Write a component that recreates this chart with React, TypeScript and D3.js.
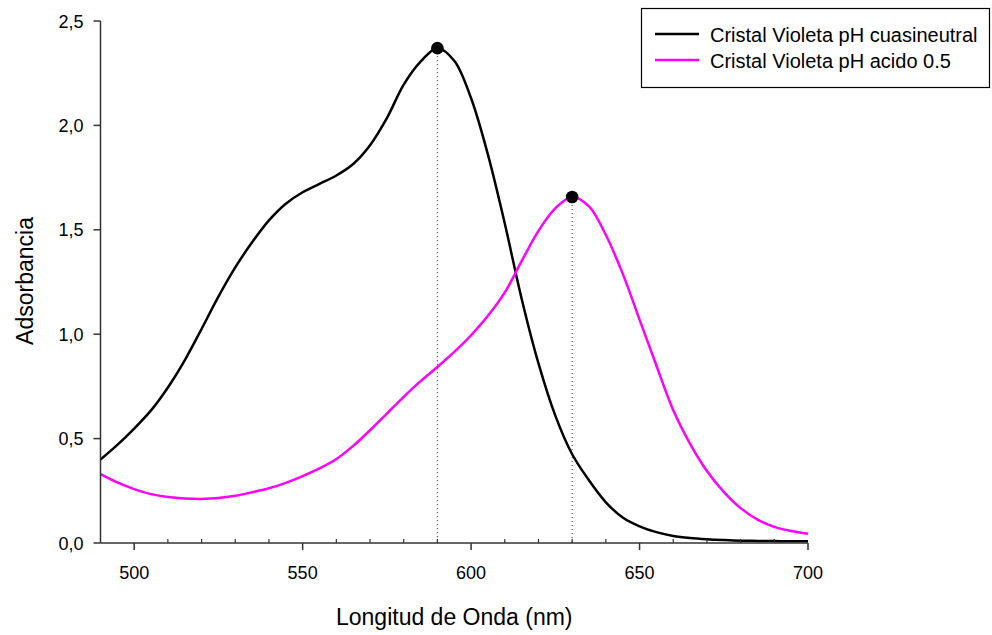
import React from "react";
import * as d3 from "d3";

// Wavelength grid (nm) shared by both spectra
const wavelengths = [
  490, 495, 500, 505, 510, 515, 520, 525, 530, 535, 540, 545, 550, 555, 560,
  565, 570, 575, 580, 585, 590, 595, 600, 605, 610, 615, 620, 625, 630, 635,
  640, 645, 650, 655, 660, 665, 670, 675, 680, 685, 690, 695, 700,
];

// Absorbance, crystal violet near-neutral pH
const neutral = [
  0.4, 0.47, 0.548, 0.635, 0.745, 0.875, 1.025, 1.18, 1.32, 1.44, 1.545, 1.625,
  1.68, 1.72, 1.76, 1.815, 1.905, 2.035, 2.195, 2.305, 2.37, 2.31, 2.13, 1.86,
  1.53, 1.17, 0.86, 0.61, 0.425, 0.3, 0.195, 0.122, 0.08, 0.052, 0.034, 0.024,
  0.018, 0.014, 0.011, 0.01, 0.009, 0.008, 0.008,
];

// Absorbance, crystal violet at acid pH 0.5
const acid = [
  0.33, 0.29, 0.258, 0.234, 0.22, 0.213, 0.211, 0.215, 0.226, 0.243, 0.262,
  0.288, 0.32, 0.357, 0.402, 0.465, 0.54, 0.62, 0.7, 0.775, 0.843, 0.915, 0.995,
  1.088, 1.2, 1.35, 1.495, 1.603, 1.657, 1.612, 1.475, 1.29, 1.07, 0.85, 0.636,
  0.475, 0.345, 0.245, 0.167, 0.112, 0.077, 0.057, 0.044,
];

// Absorption maxima marked on the plot
const peaks = [
  { nm: 590, a: 2.37 },
  { nm: 630, a: 1.657 },
];

const seriesNames = [
  "Cristal Violeta pH cuasineutral",
  "Cristal Violeta pH acido 0.5",
];
const seriesColors = ["#000000", "#ff00ff"];

const xMajorTicks = [500, 550, 600, 650, 700];
const xMinorTicks = [
  510, 520, 530, 540, 560, 570, 580, 590, 610, 620, 630, 640, 660, 670, 680, 690,
];
const yTicks = [0, 0.5, 1, 1.5, 2, 2.5];

const FONT = "'Liberation Sans', Arial, Helvetica, sans-serif";

export default function App() {
  const width = 992;
  const height = 635;
  const left = 100.5;
  const right = 808;
  const top = 21;
  const bottom = 543;

  const x = d3.scaleLinear().domain([490, 700]).range([left, right]);
  const y = d3.scaleLinear().domain([0, 2.5]).range([bottom, top]);

  const line = d3
    .line<number>()
    .x((_, i) => x(wavelengths[i]))
    .y((d) => y(d))
    .curve(d3.curveCatmullRom.alpha(0.5));

  const fmt = (v: number) => v.toFixed(1).replace(".", ",");
  const axisColor = "#333";

  return (
    <svg
      width={width}
      height={height}
      style={{ position: "absolute", left: 0, top: 0, background: "#fff" }}
      fontFamily={FONT}
    >
      {/* dotted drop lines from the maxima */}
      {peaks.map((p, i) => (
        <line
          key={`drop-${i}`}
          x1={x(p.nm)}
          x2={x(p.nm)}
          y1={y(p.a)}
          y2={bottom}
          stroke="#222"
          strokeWidth={1}
          strokeDasharray="1,3"
        />
      ))}

      {/* spectra */}
      {[neutral, acid].map((vals, i) => (
        <path
          key={`s-${i}`}
          d={line(vals) || ""}
          fill="none"
          stroke={seriesColors[i]}
          strokeWidth={2.5}
          strokeLinejoin="round"
        />
      ))}

      {/* peak markers */}
      {peaks.map((p, i) => (
        <circle key={`pk-${i}`} cx={x(p.nm)} cy={y(p.a)} r={6.3} fill="#000" />
      ))}

      {/* y axis */}
      <line x1={left} x2={left} y1={top} y2={bottom} stroke={axisColor} strokeWidth={1.5} />
      {yTicks.map((t) => (
        <g key={`yt-${t}`}>
          <line x1={left - 7} x2={left} y1={y(t)} y2={y(t)} stroke={axisColor} strokeWidth={1.5} />
          <text x={left - 17} y={y(t) + 6.5} textAnchor="end" fontSize={18} fill="#000">
            {fmt(t)}
          </text>
        </g>
      ))}

      {/* x axis */}
      <line x1={left} x2={right} y1={bottom} y2={bottom} stroke={axisColor} strokeWidth={1.5} />
      {xMinorTicks.map((t) => (
        <line key={`xm-${t}`} x1={x(t)} x2={x(t)} y1={bottom - 4} y2={bottom} stroke={axisColor} strokeWidth={1.2} />
      ))}
      {xMajorTicks.map((t) => (
        <g key={`xt-${t}`}>
          <line x1={x(t)} x2={x(t)} y1={bottom} y2={bottom + 7} stroke={axisColor} strokeWidth={1.5} />
          <text x={x(t)} y={579} textAnchor="middle" fontSize={18} fill="#000">
            {t}
          </text>
        </g>
      ))}

      {/* axis titles */}
      <text x={(left + right) / 2} y={625} textAnchor="middle" fontSize={23} fill="#000">
        Longitud de Onda (nm)
      </text>
      <text
        transform={`translate(33, 281) rotate(-90)`}
        textAnchor="middle"
        fontSize={23}
        fill="#000"
      >
        Adsorbancia
      </text>

      {/* legend */}
      <rect x={641.5} y={8.5} width={348} height={79} fill="#fff" stroke="#000" strokeWidth={1.2} />
      {seriesNames.map((name, i) => (
        <g key={`lg-${i}`}>
          <line
            x1={655}
            x2={699}
            y1={34 + i * 26}
            y2={34 + i * 26}
            stroke={seriesColors[i]}
            strokeWidth={2.5}
          />
          <text x={710} y={42 + i * 26} fontSize={20} fill="#000">
            {name}
          </text>
        </g>
      ))}
    </svg>
  );
}
